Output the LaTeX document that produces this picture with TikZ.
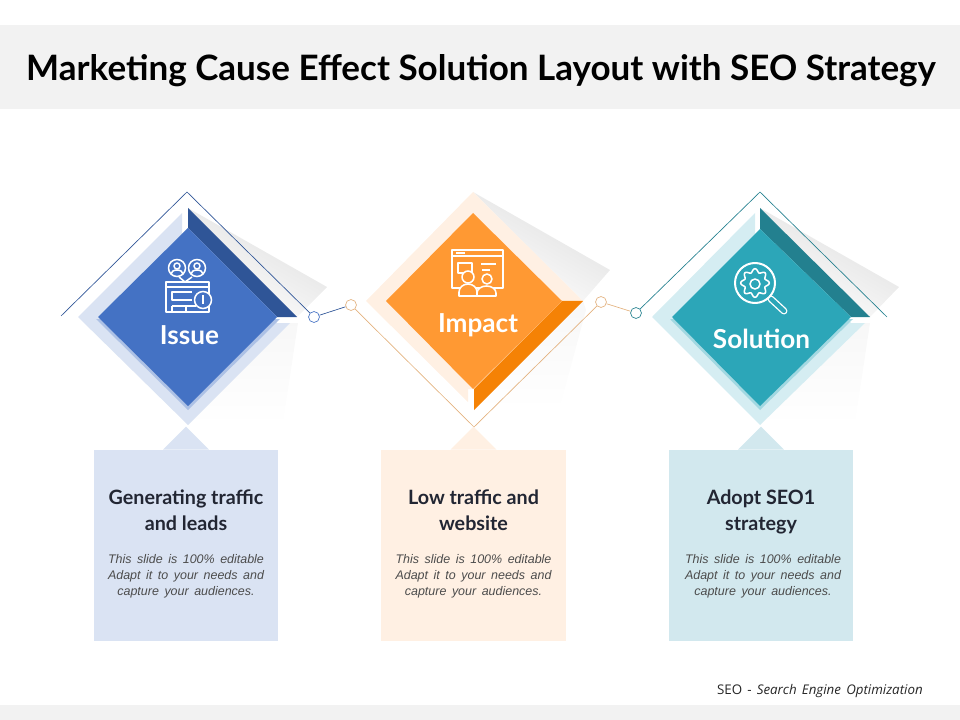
\documentclass[tikz,border=0pt]{standalone}
\usepackage{fontspec}
\setmainfont{Liberation Sans}
\newfontfamily\headfont{Lato}
\newfontfamily\descfont[WordSpace=1.6]{Liberation Sans}
\newfontfamily\notefont[WordSpace=1.5]{Open Sans}
\usetikzlibrary{calc}
\definecolor{band}{HTML}{F2F2F2}
\definecolor{issuemain}{HTML}{4472C4}
\definecolor{issuedark}{HTML}{2F5597}
\definecolor{issuelight}{HTML}{DAE3F3}
\definecolor{impactmain}{HTML}{FF9933}
\definecolor{impactdark}{HTML}{F58205}
\definecolor{impactlight}{HTML}{FFF0E3}
\definecolor{impactrim}{HTML}{E3B27F}
\definecolor{solutionmain}{HTML}{2CA6B8}
\definecolor{solutiondark}{HTML}{23808F}
\definecolor{solutionlight}{HTML}{D5EDF2}
\definecolor{boxteal}{HTML}{D2E8EE}
\definecolor{inktext}{HTML}{222633}

\begin{document}
\begin{tikzpicture}[x=0.75pt,y=-0.75pt,
  dot/.style={circle,draw,fill=white,inner sep=0pt,minimum size=8.2pt,line width=0.5pt},
  rim/.style={line width=0.5pt},
  infobox/.style={minimum width=138pt,minimum height=143.25pt,inner sep=0pt},
  caption/.style={text=white,font=\headfont\bfseries\fontsize{19.6}{22}\selectfont},
  heading/.style={align=center,text=inktext,font=\headfont\bfseries\fontsize{14.8}{19.5}\selectfont},
  blurb/.style={align=center,text=black!70,font=\descfont\itshape\fontsize{9.35}{12}\selectfont},
  iconline/.style={draw=white,line width=1.15pt,line join=round},
  fadeup/.style={left color=black!13,right color=white,shading angle=-30},
  fadedown/.style={top color=black!3,bottom color=white}]
  \useasboundingbox (0,0) rectangle (960,720);
  \fill[band] (0,25) rectangle (960,109);
  \fill[band] (0,705) rectangle (960,720);
  \node[text=black,font=\headfont\bfseries\fontsize{26.25}{30}\selectfont] (title) at (481,71) {Marketing Cause Effect Solution Layout with SEO Strategy};

  % issue
  \shade[fadeup] (188,208) -- (327,287) -- (297,317) -- cycle;
  \shade[fadedown] (290,323) -- (298,323) -- (283,423) -- (188,425) -- cycle;
  \fill[issuelight] (182,213) -- (78,317) -- (188,425) -- (290,323) -- (277,323) -- (188,228) -- (182,234) -- cycle;
  \fill[issuedark] (188,208) -- (297,317) -- (277,317) -- (188,228) -- cycle;
  \fill[issuemain!30!issuelight] (96,319) -- (188,410) -- (280,319) -- cycle;
  \fill[issuemain] (188,228) -- (98,317) -- (188,406) -- (277,317) -- cycle;

  % impact
  \shade[fadeup] (473,192) -- (610,270) -- (583,301) -- cycle;
  \shade[fadedown] (583,301) -- (586,310) -- (560,407) -- (474,410) -- cycle;
  \fill[impactlight] (473,192) -- (366,301) -- (468,402) -- (468,389) -- (474,389) -- (583,301) -- cycle;
  \fill[impactdark] (562,301) -- (583,301) -- (474,410) -- (474,389) -- cycle;
  \fill[impactmain] (473,213) -- (386,301) -- (473,389) -- (562,301) -- cycle;

  % solution
  \shade[fadeup] (760,208) -- (899,287) -- (870,317) -- cycle;
  \shade[fadedown] (865,323) -- (870,323) -- (855,423) -- (760,425) -- cycle;
  \fill[solutionlight] (755,213) -- (652,317) -- (760,425) -- (865,323) -- (851,323) -- (760,229) -- (755,234) -- cycle;
  \fill[solutiondark] (760,208) -- (870,317) -- (851,317) -- (760,229) -- cycle;
  \fill[solutionmain!30!solutionlight] (670,319) -- (760,410) -- (853,319) -- cycle;
  \fill[solutionmain] (760,229) -- (672,317) -- (760,406) -- (851,317) -- cycle;

  \coordinate (issueleft) at (61,316);
  \coordinate (issuetop) at (187,192);
  \coordinate (impactbottom) at (474,427);
  \coordinate (solutiontop) at (760,192);
  \coordinate (solutionright) at (887,317);
  \node[dot,draw=issuemain] (issuedot) at (314,317) {};
  \node[dot,draw=impactrim] (impactdotl) at (351,305) {};
  \node[dot,draw=impactrim] (impactdotr) at (601,302) {};
  \node[dot,draw=solutiondark] (solutiondot) at (636,313) {};
  \draw[rim,draw=issuedark] (issueleft) -- (issuetop) -- (issuedot);
  \draw[rim,draw=impactrim] (impactdotl) -- (impactbottom) -- (impactdotr);
  \draw[rim,draw=solutiondark] (solutiondot) -- (solutiontop) -- (solutionright);
  \draw[rim,draw=issuedark] (issuedot) -- (impactdotl);
  \draw[rim,draw=impactrim] (impactdotr) -- (solutiondot);

  % icons
  \draw[iconline] (177,268) circle (8.5) (197,268) circle (8.5) (177,266) circle (3) (197,266) circle (3);
  \draw[iconline] (171,274) arc (180:360:6 and 4) (191,274) arc (180:360:6 and 4);
  \draw[iconline] (179,277) -- (185,282) -- (192,277);
  \draw[iconline] (166,282) rectangle (209,312) (166,287) -- (209,287);
  \draw[iconline] (192,292) -- (172,292) -- (172,300) -- (192,300) (172,306) -- (172,312) (186,306) -- (186,312) (172,306) -- (196,306);
  \draw[iconline,fill=issuemain] (203,300) circle (8.5);
  \draw[draw=white,line width=1.5pt] (203,295.5) -- (203,304.5);

  \draw[iconline] (452,250) rectangle (503,288) (452,256) -- (503,256);
  \draw[iconline] (456,253) -- (465,253);
  \draw[iconline] (458,263) rectangle (472,273) (481,264) -- (496,264) (482,270) -- (490,270);
  \draw[iconline,fill=impactmain] (459,296) -- (459,292) arc (180:360:9 and 8) -- (477,296) -- cycle;
  \draw[iconline,fill=impactmain] (468,277) circle (6);
  \draw[iconline,fill=impactmain] (477,296) -- (477,293) arc (180:360:9.5 and 7) -- (496,296) -- cycle;
  \draw[iconline,fill=impactmain] (487,279) circle (5);

  \draw[draw=white,line width=5.2pt,line cap=round] (771,299) -- (784,311);
  \draw[draw=solutionmain,line width=3.2pt,line cap=round] (771,299) -- (784,311);
  \draw[iconline,line width=1.5pt,fill=solutionmain] (755,283) circle (20);
  \draw[iconline] plot[domain=0:360,samples=97,smooth] ({755+(12.5+1.8*cos(8*\x))*cos(\x)},{283+(12.5+1.8*cos(8*\x))*sin(\x)});
  \draw[iconline] (755,284) circle (5);

  \node[caption] (issuelabel) at (189.5,335) {Issue};
  \node[caption] (impactlabel) at (478,325) {Impact};
  \node[caption] (solutionlabel) at (761.5,339) {Solution};

  % boxes
  \node[infobox,fill=issuelight] (issuebox) at (186,545.5) {};
  \node[infobox,fill=impactlight,minimum width=138.75pt] (impactbox) at (473.5,545.5) {};
  \node[infobox,fill=boxteal] (solutionbox) at (761,545.5) {};
  \fill[issuelight] ($(issuebox.north)+(-23,0)$) -- ($(issuebox.north)+(0,-23)$) -- ($(issuebox.north)+(23,0)$) -- cycle;
  \fill[impactlight] ($(impactbox.north)+(-23,0)$) -- ($(impactbox.north)+(0,-23)$) -- ($(impactbox.north)+(23,0)$) -- cycle;
  \fill[boxteal] ($(solutionbox.north)+(-23,0)$) -- ($(solutionbox.north)+(0,-23)$) -- ($(solutionbox.north)+(23,0)$) -- cycle;

  \node[heading] (issuehead) at (186,510.5) {Generating traffic\\and leads};
  \node[heading] (impacthead) at (473.5,510.5) {Low traffic and\\website};
  \node[heading] (solutionhead) at (761,512) {Adopt SEO1\\strategy};
  \node[blurb] (issueblurb) at (186,576) {This slide is 100\% editable\\Adapt it to your needs and\\capture your audiences.};
  \node[blurb] (impactblurb) at (473.5,576) {This slide is 100\% editable\\Adapt it to your needs and\\capture your audiences.};
  \node[blurb] (solutionblurb) at (763,576) {This slide is 100\% editable\\Adapt it to your needs and\\capture your audiences.};

  \node[anchor=east,inner sep=0pt,text=black!85,font=\notefont\fontsize{10}{12}\selectfont] (note) at (923,691.5) {SEO - \textit{Search Engine Optimization}};
\end{tikzpicture}
\end{document}
